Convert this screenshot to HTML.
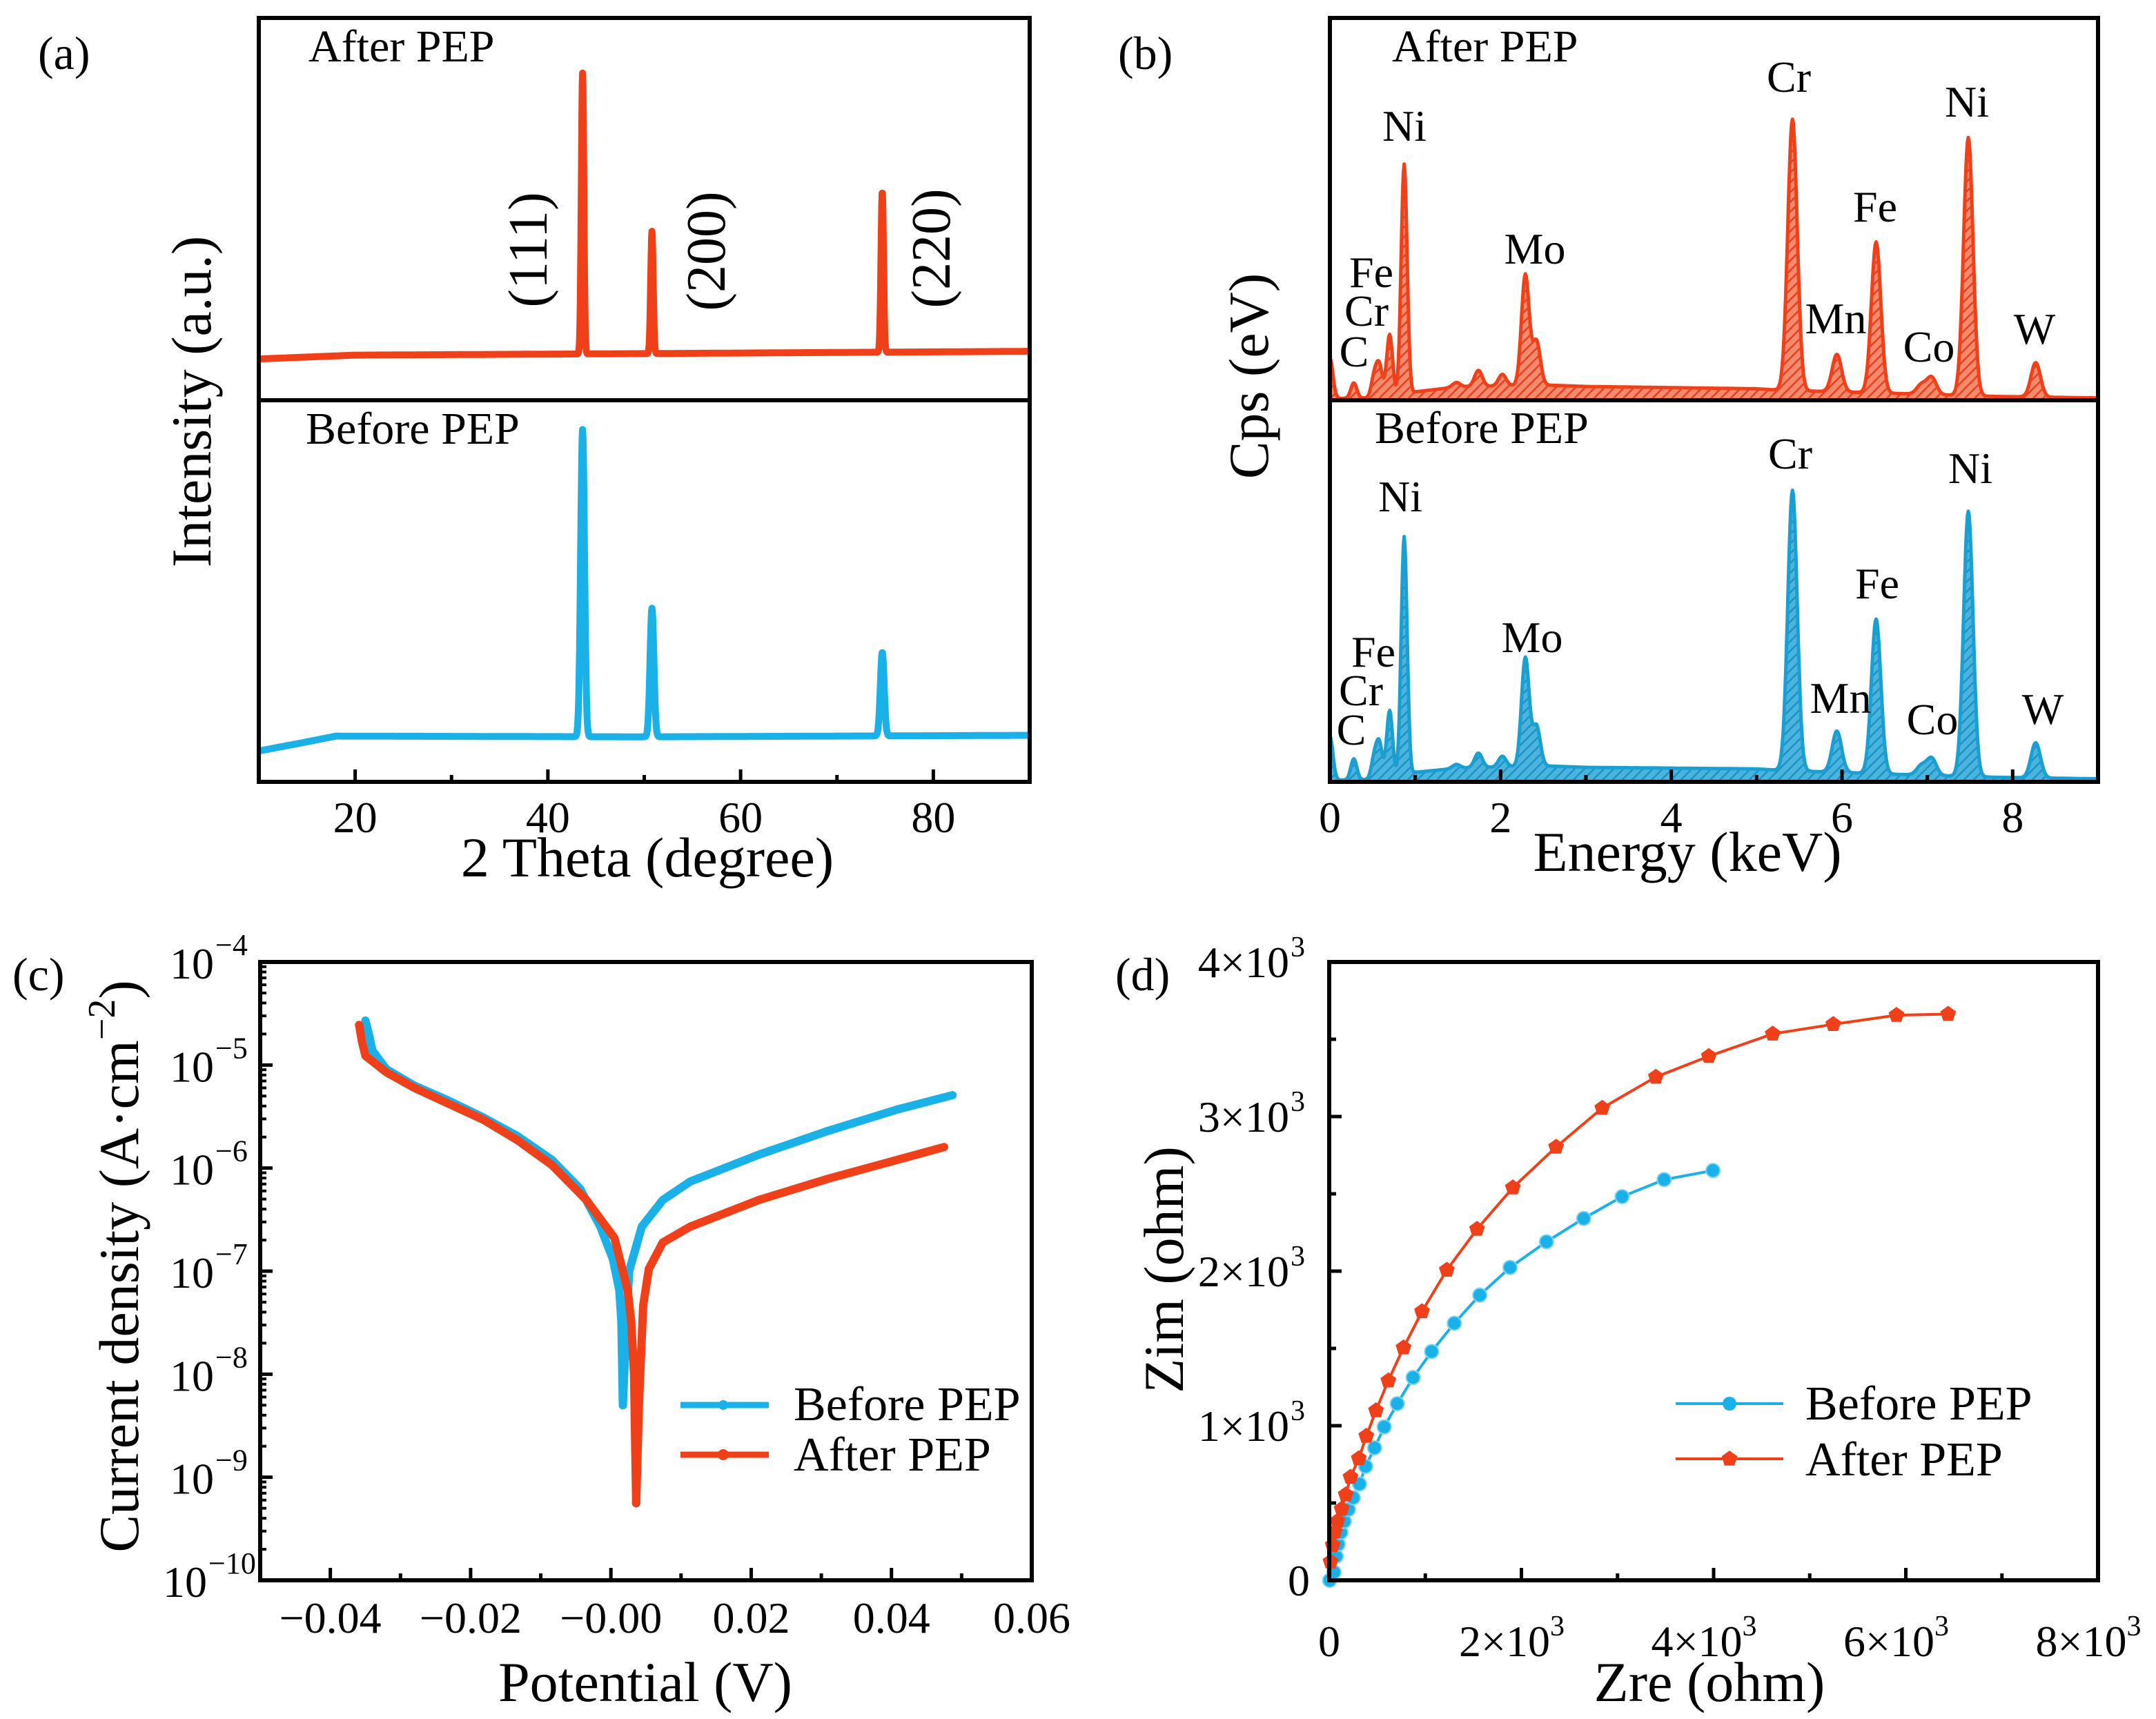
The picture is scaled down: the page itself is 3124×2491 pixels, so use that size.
<!DOCTYPE html>
<html><head><meta charset="utf-8"><style>
html,body{margin:0;padding:0;background:#fff}
svg{display:block}
text{font-family:"Liberation Serif","DejaVu Serif",serif;fill:#000}
</style></head><body>
<svg id="fig" width="3124" height="2491" viewBox="0 0 3124 2491" xmlns="http://www.w3.org/2000/svg">
<defs>
<pattern id="hatchR" width="10" height="10" patternUnits="userSpaceOnUse" patternTransform="rotate(45)">
<rect width="10" height="10" fill="#f58a6e"/><line x1="0" y1="0" x2="0" y2="10" stroke="#e8401c" stroke-width="5"/></pattern>
<pattern id="hatchB" width="10" height="10" patternUnits="userSpaceOnUse" patternTransform="rotate(45)">
<rect width="10" height="10" fill="#4cb3dd"/><line x1="0" y1="0" x2="0" y2="10" stroke="#1794c8" stroke-width="5"/></pattern>
</defs>
<g id="pa"></g>
<g id="pb"></g>
<g id="pc"></g>
<g id="pd"></g>
</svg>
<script>
// ---------- Panel (a) XRD data ----------
const xrdPeakPos = [43.6, 50.8, 74.7];
const xrdAfterHeights = [735, 320, 421];
const xrdBeforeHeights = [805, 337, 219];
const xrdAfterBaseX = [10, 20, 50, 90];
const xrdAfterBaseY = [108, 118, 122, 128];
const xrdBeforeBaseX = [10, 14, 18, 50, 90];
const xrdBeforeBaseY = [81, 100, 120, 118, 122];
// ---------- Panel (b) EDS data ----------
const edsPeakE = [0.0, 0.28, 0.52, 0.58, 0.70, 0.87, 1.48, 1.74, 2.02, 2.29, 2.42, 5.42, 5.94, 6.40, 6.93, 7.05, 7.48, 8.27];
const edsAfterHeights = [105, 40, 55, 80, 165, 610, 12, 42, 30, 290, 115, 710, 98, 395, 25, 45, 675, 90];
const edsBeforeHeights = [115, 55, 55, 90, 180, 635, 10, 38, 28, 285, 105, 735, 108, 405, 25, 45, 695, 92];
const edsBgE = [0, 0.2, 0.9, 1.0, 1.5, 2.5, 3, 5, 5.3, 6.6, 7.2, 7.8, 9];
const edsAfterBg = [5, 5, 8, 22, 35, 40, 36, 30, 26, 18, 14, 10, 6];
const edsBeforeBg = [5, 5, 8, 25, 36, 42, 38, 34, 30, 20, 16, 12, 8];
// ---------- Panel (c) polarization data ----------
const beforeCathE = [-0.035,-0.0345,-0.034,-0.032,-0.028,-0.0231,-0.0182,-0.0133,-0.0084,-0.0044,-0.0015,0.0003,0.0012,0.0015,0.0017];
const beforeCathI = [2.7e-5,2e-5,1.38e-5,9.1e-6,6.3e-6,4.5e-6,3.1e-6,2.04e-6,1.2e-6,6.3e-7,2.7e-7,1.3e-7,6.5e-8,3.2e-8,5e-9];
const beforeAnodE = [0.0017,0.0022,0.0026,0.0044,0.0074,0.0113,0.0211,0.031,0.0408,0.0487];
const beforeAnodI = [5e-9,3e-8,1e-7,2.7e-7,4.9e-7,7.4e-7,1.35e-6,2.3e-6,3.7e-6,5.1e-6];
const afterCathE = [-0.0359,-0.0355,-0.035,-0.032,-0.028,-0.0231,-0.0182,-0.0133,-0.0084,-0.0035,0.0005,0.0024,0.0029,0.0033,0.0036];
const afterCathI = [2.45e-5,1.7e-5,1.23e-5,8.5e-6,6e-6,4.2e-6,2.95e-6,1.86e-6,1.07e-6,4.9e-7,2.1e-7,6.5e-8,3.2e-8,1e-8,5.6e-10];
const afterAnodE = [0.0036,0.0040,0.0046,0.0054,0.0074,0.0113,0.0211,0.031,0.0408,0.0475];
const afterAnodI = [5.6e-10,5e-9,4.6e-8,1.05e-7,1.9e-7,2.7e-7,4.9e-7,7.9e-7,1.2e-6,1.6e-6];
const cXTicks = [-0.04,-0.02,0.00,0.02,0.04,0.06];
const cXTickLabels = ["\u22120.04","\u22120.02","\u22120.00","0.02","0.04","0.06"];
const cYExps = [-4,-5,-6,-7,-8,-9,-10];
// ---------- Panel (d) Nyquist data ----------
const afterZre = [14,36,57,86,129,172,222,308,386,487,615,773,966,1224,1538,1911,2361,2841,3399,3950,4615,5245,5903,6440];
const afterZim = [120,227,313,382,461,554,668,788,933,1098,1291,1505,1739,2007,2272,2540,2803,3055,3256,3390,3535,3597,3656,3663];
const beforeZre = [5,50,72,93,122,157,200,250,315,379,472,572,708,873,1066,1302,1567,1882,2261,2648,3048,3485,3993];
const beforeZim = [0,52,155,234,310,382,458,534,623,737,857,992,1143,1312,1480,1663,1845,2024,2190,2341,2482,2592,2651];
const dTicks = [0,2000,4000,6000,8000];
const dYTicks = [0,1000,2000,3000,4000];

const NS = "http://www.w3.org/2000/svg";
function mk(parent, tag, attrs, txt) {
  const e = document.createElementNS(NS, tag);
  for (const k in attrs) e.setAttribute(k, attrs[k]);
  if (txt !== undefined) e.textContent = txt;
  parent.appendChild(e);
  return e;
}
function interp(xs, ys, x) {
  if (x <= xs[0]) return ys[0];
  for (let i = 1; i < xs.length; i++) if (x <= xs[i]) { const t = (x - xs[i-1]) / (xs[i] - xs[i-1]); return ys[i-1] + t * (ys[i] - ys[i-1]); }
  return ys[ys.length-1];
}
const Y1 = z => z / 1.225;
const RED = "#f0401a", BLUE = "#1ab0e8", BLUE2 = "#1a9fd2";

// ======== Panel A ========
(function(){
  const g = document.getElementById('pa');
  const L = 375, R = 1492, T = 26, M = 580, B = 1133;
  const sx = v => L + (v - 10) / 80 * (R - L);
  const syTop = v => M - v * (M - T) / 1000;
  const syBot = v => B - v * (B - M) / 1000;
  function spectrum(heights, bx, by, sig, sy) {
    let d = "";
    for (let x = 10; x <= 90.001; x += 0.04) {
      let v = interp(bx, by, x);
      for (let i = 0; i < xrdPeakPos.length; i++) v += heights[i] * Math.exp(-Math.pow(x - xrdPeakPos[i], 2) / (2 * sig * sig));
      d += (d ? "L" : "M") + sx(x).toFixed(1) + "," + sy(v).toFixed(1);
    }
    return d;
  }
  let p = mk(g, 'path', {d: spectrum(xrdAfterHeights, xrdAfterBaseX, xrdAfterBaseY, 0.13, syTop), fill: 'none', stroke: RED, 'stroke-width': 10, 'stroke-linejoin': 'round'});
   
  p = mk(g, 'path', {d: spectrum(xrdBeforeHeights, xrdBeforeBaseX, xrdBeforeBaseY, 0.2, syBot), fill: 'none', stroke: BLUE, 'stroke-width': 10, 'stroke-linejoin': 'round'});
   
  mk(g, 'rect', {x: L, y: T, width: R - L, height: B - T, fill: 'none', stroke: '#000', 'stroke-width': 6,  });
  mk(g, 'line', {x1: L, y1: M, x2: R, y2: M, stroke: '#000', 'stroke-width': 6});
  for (let v = 20; v <= 80; v += 10) {
    mk(g, 'line', {x1: sx(v), y1: B, x2: sx(v), y2: B - (v % 20 === 0 ? 18 : 10), stroke: '#000', 'stroke-width': 5});
    if (v % 20 === 0) { const t = mk(g, 'text', {x: sx(v), y: 1206, 'font-size': 64, 'text-anchor': 'middle'}, String(v));   }
  }
  mk(g, 'text', {x: 938, y: 1270, 'font-size': 82, 'text-anchor': 'middle',  }, '2 Theta (degree)');
  mk(g, 'text', {x: 0, y: 0, 'font-size': 82, 'text-anchor': 'middle', transform: 'translate(305,582) rotate(-90)',  }, 'Intensity (a.u.)');
  mk(g, 'text', {x: 55, y: 100, 'font-size': 68,  }, '(a)');
  mk(g, 'text', {x: 447, y: 89, 'font-size': 66,  }, 'After PEP');
  mk(g, 'text', {x: 443, y: 643, 'font-size': 66,  }, 'Before PEP');
  [['(111)', 792, 362], ['(200)', 1050, 364], ['(220)', 1376, 360]].forEach(a => {
    mk(g, 'text', {x: 0, y: 0, 'font-size': 80, 'text-anchor': 'middle', transform: `translate(${a[1]},${a[2]}) rotate(-90)`,  }, a[0]);
  });
})();

// ======== Panel B ========
(function(){
  const g = document.getElementById('pb');
  const L = 1927, R = 3040, T = 26, M = 580, B = 1133;
  const sx = v => L + v / 9 * (R - L);
  const syTop = v => M - v * (M - T) / 1000;
  const syBot = v => B - v * (B - M) / 1000;
  function spec(heights, bg, sy, base) {
    let d = "M" + sx(0) + "," + base;
    for (let x = 0; x <= 9.0001; x += 0.01) {
      let v = interp(edsBgE, bg, x);
      for (let i = 0; i < edsPeakE.length; i++) { const s = edsPeakE[i] < 1.2 ? 0.035 : (edsPeakE[i] < 3 ? 0.045 : 0.055); v += heights[i] * Math.exp(-Math.pow(x - edsPeakE[i], 2) / (2 * s * s)); }
      d += "L" + sx(x).toFixed(1) + "," + sy(v).toFixed(1);
    }
    return d + "L" + sx(9) + "," + base + "Z";
  }
  let p = mk(g, 'path', {d: spec(edsAfterHeights, edsAfterBg, syTop, M), fill: 'url(#hatchR)', stroke: RED, 'stroke-width': 5, 'stroke-linejoin': 'round'});
   
  p = mk(g, 'path', {d: spec(edsBeforeHeights, edsBeforeBg, syBot, B), fill: 'url(#hatchB)', stroke: BLUE2, 'stroke-width': 5, 'stroke-linejoin': 'round'});
   
  mk(g, 'rect', {x: L, y: T, width: R - L, height: B - T, fill: 'none', stroke: '#000', 'stroke-width': 6,  });
  mk(g, 'line', {x1: L, y1: M, x2: R, y2: M, stroke: '#000', 'stroke-width': 6});
  for (let v = 1; v <= 8; v++) {
    mk(g, 'line', {x1: sx(v), y1: B, x2: sx(v), y2: B - (v % 2 === 0 ? 18 : 10), stroke: '#000', 'stroke-width': 5});
  }
  for (let v = 0; v <= 8; v += 2) { const t = mk(g, 'text', {x: sx(v), y: 1206, 'font-size': 64, 'text-anchor': 'middle'}, String(v));   }
  mk(g, 'text', {x: 2445, y: 1262, 'font-size': 82, 'text-anchor': 'middle',  }, 'Energy (keV)');
  mk(g, 'text', {x: 0, y: 0, 'font-size': 82, 'text-anchor': 'middle', transform: 'translate(1837,545) rotate(-90)',  }, 'Cps (eV)');
  mk(g, 'text', {x: 1620, y: 100, 'font-size': 68,  }, '(b)');
  mk(g, 'text', {x: 2017, y: 89, 'font-size': 66,  }, 'After PEP');
  mk(g, 'text', {x: 1992, y: 642, 'font-size': 66,  }, 'Before PEP');
  const lbls = [['Ni',2035,250],['Cr',2592,163],['Ni',2850,207],['Fe',2717,393],['Mo',2224,468],['Fe',1987,510],['Cr',1980,578],['C',1962,650],['Mn',2660,592],['Co',2795,642],['W',2948,610],
    ['Ni',2029,908],['Cr',2594,832],['Ni',2855,857],['Fe',2720,1062],['Mo',2220,1158],['Fe',1990,1183],['Cr',1972,1252],['C',1958,1322],['Mn',2667,1265],['Co',2800,1303],['W',2960,1285]];
  lbls.forEach(a => mk(g, 'text', {x: a[1], y: Y1(a[2]).toFixed(0), 'font-size': 64, 'text-anchor': 'middle',  }, a[0]));
})();

// ======== Panel C ========
(function(){
  const g = document.getElementById('pc');
  const L = 377, R = 1495, T = 1394, B = 2290;
  const sx = v => L + (v + 0.05) / 0.11 * (R - L);
  const sy = v => T + (-4 - Math.log10(v)) / 6 * (B - T);
  function line(E, I) { return E.map((e, i) => (i ? 'L' : 'M') + sx(e).toFixed(1) + ',' + sy(I[i]).toFixed(1)).join(''); }
  [[beforeCathE, beforeCathI, BLUE, 'before-pep-cathodic-line'], [beforeAnodE, beforeAnodI, BLUE, 'before-pep-anodic-line'],
   [afterCathE, afterCathI, RED, 'after-pep-cathodic-line'], [afterAnodE, afterAnodI, RED, 'after-pep-anodic-line']].forEach(s => {
    const p = mk(g, 'path', {d: line(s[0], s[1]), fill: 'none', stroke: s[2], 'stroke-width': 12, 'stroke-linejoin': 'round', 'stroke-linecap': 'round'});
    
    
  });
  mk(g, 'rect', {x: L, y: T, width: R - L, height: B - T, fill: 'none', stroke: '#000', 'stroke-width': 6,  });
  for (let v = -0.04; v <= 0.0501; v += 0.01) {
    const major = Math.abs(Math.round(v * 100)) % 2 === 0;
    mk(g, 'line', {x1: sx(v), y1: B, x2: sx(v), y2: B - (major ? 18 : 10), stroke: '#000', 'stroke-width': 5});
  }
  cXTicks.forEach((v, i) => { const t = mk(g, 'text', {x: sx(v), y: 2366, 'font-size': 64, 'text-anchor': 'middle'}, cXTickLabels[i]);   });
  cYExps.forEach(ex => {
    const y = sy(Math.pow(10, ex));
    mk(g, 'line', {x1: L, y1: y, x2: L + 18, y2: y, stroke: '#000', 'stroke-width': 5});
    if (ex > -10) for (let m = 2; m <= 9; m++) { const yy = sy(m * Math.pow(10, ex - 1)); mk(g, 'line', {x1: L, y1: yy, x2: L + 9, y2: yy, stroke: '#000', 'stroke-width': 4}); }
    const t = mk(g, 'text', {x: ex === -10 ? 300 : 310, y: y + 24, 'font-size': 64, 'text-anchor': 'end'}, '10');
     
    mk(g, 'text', {x: ex === -10 ? 302 : 312, y: y - 10, 'font-size': 44}, '\u2212' + Math.abs(ex));
  });
  const yt = mk(g, 'text', {x: 0, y: 0, 'font-size': 82, 'text-anchor': 'middle', transform: 'translate(200,1835) rotate(-90)',  });
  yt.appendChild(document.createTextNode('Current density (A\u00b7cm'));
  mk(yt, 'tspan', {'font-size': 56, dy: -34}, '\u22122');
  mk(yt, 'tspan', {dy: 34}, ')');
  mk(g, 'text', {x: 935, y: 2465, 'font-size': 82, 'text-anchor': 'middle',  }, 'Potential (V)');
  mk(g, 'text', {x: 18, y: 1435, 'font-size': 68,  }, '(c)');
  mk(g, 'line', {x1: 986, y1: 2036, x2: 1114, y2: 2036, stroke: BLUE, 'stroke-width': 9,  });
  mk(g, 'circle', {cx: 1048, cy: 2036, r: 7, fill: BLUE});
  mk(g, 'line', {x1: 986, y1: 2108, x2: 1114, y2: 2108, stroke: RED, 'stroke-width': 9,  });
  mk(g, 'circle', {cx: 1048, cy: 2108, r: 8, fill: RED});
  mk(g, 'text', {x: 1150, y: 2058, 'font-size': 70,  }, 'Before PEP');
  mk(g, 'text', {x: 1150, y: 2131, 'font-size': 70,  }, 'After PEP');
})();

// ======== Panel D ========
(function(){
  const g = document.getElementById('pd');
  const L = 1926, R = 3040, T = 1394, B = 2290;
  const sx = v => L + v / 8000 * (R - L);
  const sy = v => B - v / 4000 * (B - T);
  function pts(X, Y) { return X.map((x, i) => (i ? 'L' : 'M') + sx(x).toFixed(1) + ',' + sy(Y[i]).toFixed(1)).join(''); }
  let p = mk(g, 'path', {d: pts(beforeZre, beforeZim), fill: 'none', stroke: BLUE, 'stroke-width': 4});
   
  p = mk(g, 'path', {d: pts(afterZre, afterZim), fill: 'none', stroke: RED, 'stroke-width': 4});
   
  function penta(cx, cy, r) { let s = ''; for (let k = 0; k < 5; k++) { const a = -Math.PI / 2 + k * 2 * Math.PI / 5; s += (cx + r * Math.cos(a)).toFixed(1) + ',' + (cy + r * Math.sin(a)).toFixed(1) + ' '; } return s; }
  beforeZre.forEach((x, i) => {
    const c = mk(g, 'circle', {cx: sx(x), cy: sy(beforeZim[i]), r: 10, fill: BLUE, stroke: '#7fd3f2', 'stroke-width': 2});
    
    
  });
  afterZre.forEach((x, i) => {
    const c = mk(g, 'polygon', {points: penta(sx(x), sy(afterZim[i]), 12), fill: RED});
    
    
  });
  mk(g, 'rect', {x: L, y: T, width: R - L, height: B - T, fill: 'none', stroke: '#000', 'stroke-width': 6,  });
  for (let v = 1000; v < 8000; v += 1000) mk(g, 'line', {x1: sx(v), y1: B, x2: sx(v), y2: B - (v % 2000 === 0 ? 18 : 10), stroke: '#000', 'stroke-width': 5});
  for (let v = 500; v < 4000; v += 500) mk(g, 'line', {x1: L, y1: sy(v), x2: L + (v % 1000 === 0 ? 18 : 10), y2: sy(v), stroke: '#000', 'stroke-width': 5});
  dTicks.forEach(v => {
    const t = mk(g, 'text', {x: sx(v) - (v ? 14 : 0), y: 2400, 'font-size': 64, 'text-anchor': 'middle'});
     
    if (v === 0) t.textContent = '0'; else { t.textContent = (v / 1000) + '\u00d710'; mk(t, 'tspan', {'font-size': 42, dy: -30}, '3'); }
  });
  dYTicks.forEach(v => {
    const t = mk(g, 'text', {x: v ? 1868 : 1898, y: sy(v) + 22, 'font-size': 64, 'text-anchor': 'end'});
     
    t.textContent = v === 0 ? '0' : (v / 1000) + '\u00d710';
    if (v) mk(g, 'text', {x: 1870, y: sy(v) - 8, 'font-size': 42}, '3');
  });
  mk(g, 'text', {x: 2477, y: 2465, 'font-size': 82, 'text-anchor': 'middle',  }, 'Zre (ohm)');
  mk(g, 'text', {x: 0, y: 0, 'font-size': 82, 'text-anchor': 'middle', transform: 'translate(1714,1840) rotate(-90)',  }, 'Zim (ohm)');
  mk(g, 'text', {x: 1616, y: 1435, 'font-size': 68,  }, '(d)');
  mk(g, 'line', {x1: 2428, y1: 2034, x2: 2584, y2: 2034, stroke: BLUE, 'stroke-width': 4,  });
  mk(g, 'circle', {cx: 2506, cy: 2034, r: 10, fill: BLUE});
  mk(g, 'line', {x1: 2428, y1: 2114, x2: 2584, y2: 2114, stroke: RED, 'stroke-width': 4,  });
  mk(g, 'polygon', {points: penta(2506, 2114, 12), fill: RED});
  mk(g, 'text', {x: 2616, y: 2057, 'font-size': 70,  }, 'Before PEP');
  mk(g, 'text', {x: 2616, y: 2138, 'font-size': 70,  }, 'After PEP');
})();
</script>
</body></html>
